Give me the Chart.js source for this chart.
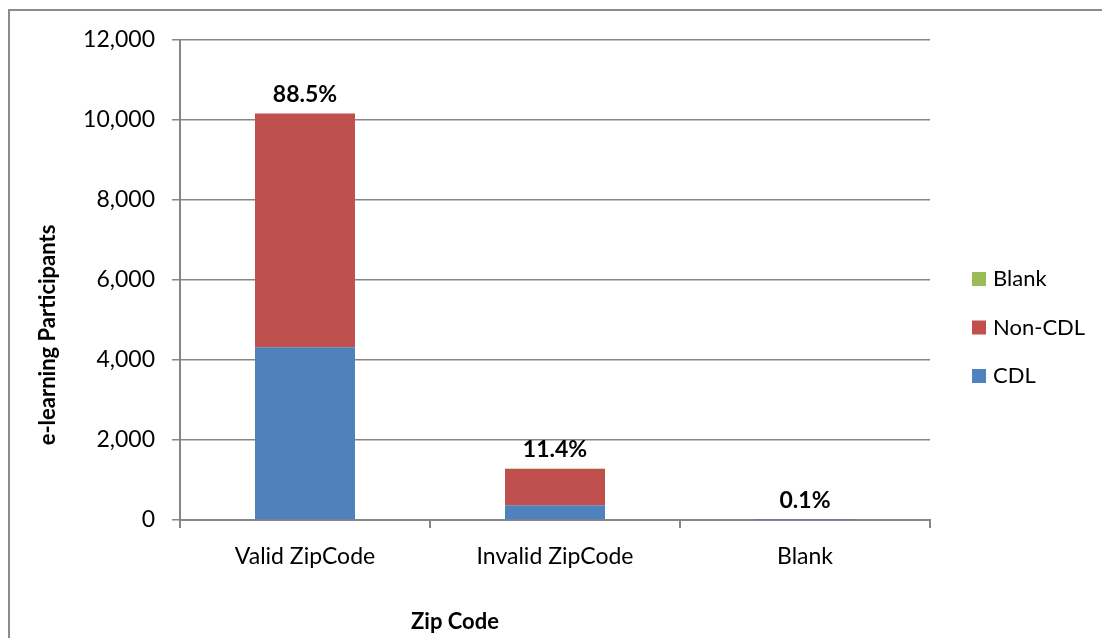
<!DOCTYPE html>
<html>
<head>
<meta charset="utf-8">
<script src="https://cdn.jsdelivr.net/npm/chart.js@4"></script>
<style>
  html, body { margin: 0; padding: 0; background: #fff; }
  #wrap { position: relative; width: 1102px; height: 638px; overflow: hidden; }
  #frame { position: absolute; left: 8px; top: 9px; width: 1200px; height: 700px; border: 2px solid #8c8c8c; }
  canvas { position: absolute; left: 0; top: 0; }
</style>
</head>
<body>
<div id="wrap">
  <div id="frame"></div>
  <canvas id="chart_canvas" width="1102" height="638"></canvas>
</div>
<script>
const categories = ['Valid ZipCode', 'Invalid ZipCode', 'Blank'];
const cdl = [4320, 370, 5];
const nonCdl = [5840, 905, 6];
const blank = [5, 15, 1];
const shareLabels = ['88.5%', '11.4%', '0.1%'];
const xTitle = 'Zip Code';
const yTitle = 'e-learning Participants';

const FONT = 'Lato, Carlito, "Open Sans", sans-serif';
const GRID = '#868686';

// percent labels on top of each stack
const shareLabelPlugin = {
    id: 'shareLabels',
    afterDatasetsDraw(chart) {
        const ctx = chart.ctx;
        const y = chart.scales.y;
        const metaTop = chart.getDatasetMeta(chart.data.datasets.length - 1);
        ctx.save();
        ctx.font = 'bold 23px ' + FONT;
        ctx.fillStyle = '#000';
        ctx.textAlign = 'center';
        ctx.textBaseline = 'bottom';
        categories.forEach(function (c, i) {
            const total = cdl[i] + nonCdl[i] + blank[i];
            ctx.fillText(shareLabels[i], metaTop.data[i].x, y.getPixelForValue(total) - 7);
        });
        ctx.restore();
    }
};

// legend on the right (top item = last dataset) and the two axis titles
const sideLegendPlugin = {
    id: 'sideLegend',
    afterDraw(chart) {
        const ctx = chart.ctx;
        const ds = chart.data.datasets.slice().reverse();
        ctx.save();
        ctx.font = '22px ' + FONT;
        ctx.textBaseline = 'middle';
        ds.forEach(function (d, i) {
            const cy = 279 + i * 48.5;
            ctx.fillStyle = d.backgroundColor;
            ctx.fillRect(972, cy - 7, 14, 14);
            ctx.fillStyle = '#000';
            ctx.fillText(d.label, 993, cy);
        });

        ctx.font = 'bold 22px ' + FONT;
        ctx.textAlign = 'center';
        ctx.fillText(xTitle, 455, 622);
        ctx.translate(48, 335);
        ctx.rotate(-Math.PI / 2);
        ctx.fillText(yTitle, 0, 0);
        ctx.restore();
    }
};

const config = {
    type: 'bar',
    data: {
        labels: categories,
        datasets: [
            { label: 'CDL', data: cdl, backgroundColor: '#4F81BD' },
            { label: 'Non-CDL', data: nonCdl, backgroundColor: '#C0504D' },
            { label: 'Blank', data: blank, backgroundColor: '#9BBB59' }
        ]
    },
    options: {
        responsive: false,
        animation: false,
        layout: { padding: { top: 40, right: 172, bottom: 0, left: 0 } },
        datasets: { bar: { barPercentage: 0.4, categoryPercentage: 1.0 } },
        plugins: {
            legend: { display: false },
            tooltip: { enabled: false }
        },
        scales: {
            x: {
                stacked: true,
                afterFit: function (s) { s.height = 118; },
                grid: { offset: true, drawOnChartArea: false, drawTicks: true, tickLength: 8, color: GRID, lineWidth: 2 },
                border: { display: true, color: GRID, width: 2 },
                ticks: { color: '#000', padding: 15, font: { family: FONT, size: 23 } }
            },
            y: {
                stacked: true,
                min: 0,
                max: 12000,
                afterFit: function (s) { s.width = 180; },
                grid: { color: GRID, lineWidth: 1.5, tickLength: 8 },
                border: { display: true, color: GRID, width: 2 },
                ticks: {
                    stepSize: 2000,
                    color: '#000',
                    padding: 17,
                    font: { family: FONT, size: 23 },
                    callback: function (v) { return v.toLocaleString('en-US'); }
                }
            }
        }
    },
    plugins: [shareLabelPlugin, sideLegendPlugin]
};

const ctx_chart = document.getElementById('chart_canvas').getContext('2d');
const zip_chart = new Chart(ctx_chart, config);
</script>
</body>
</html>
